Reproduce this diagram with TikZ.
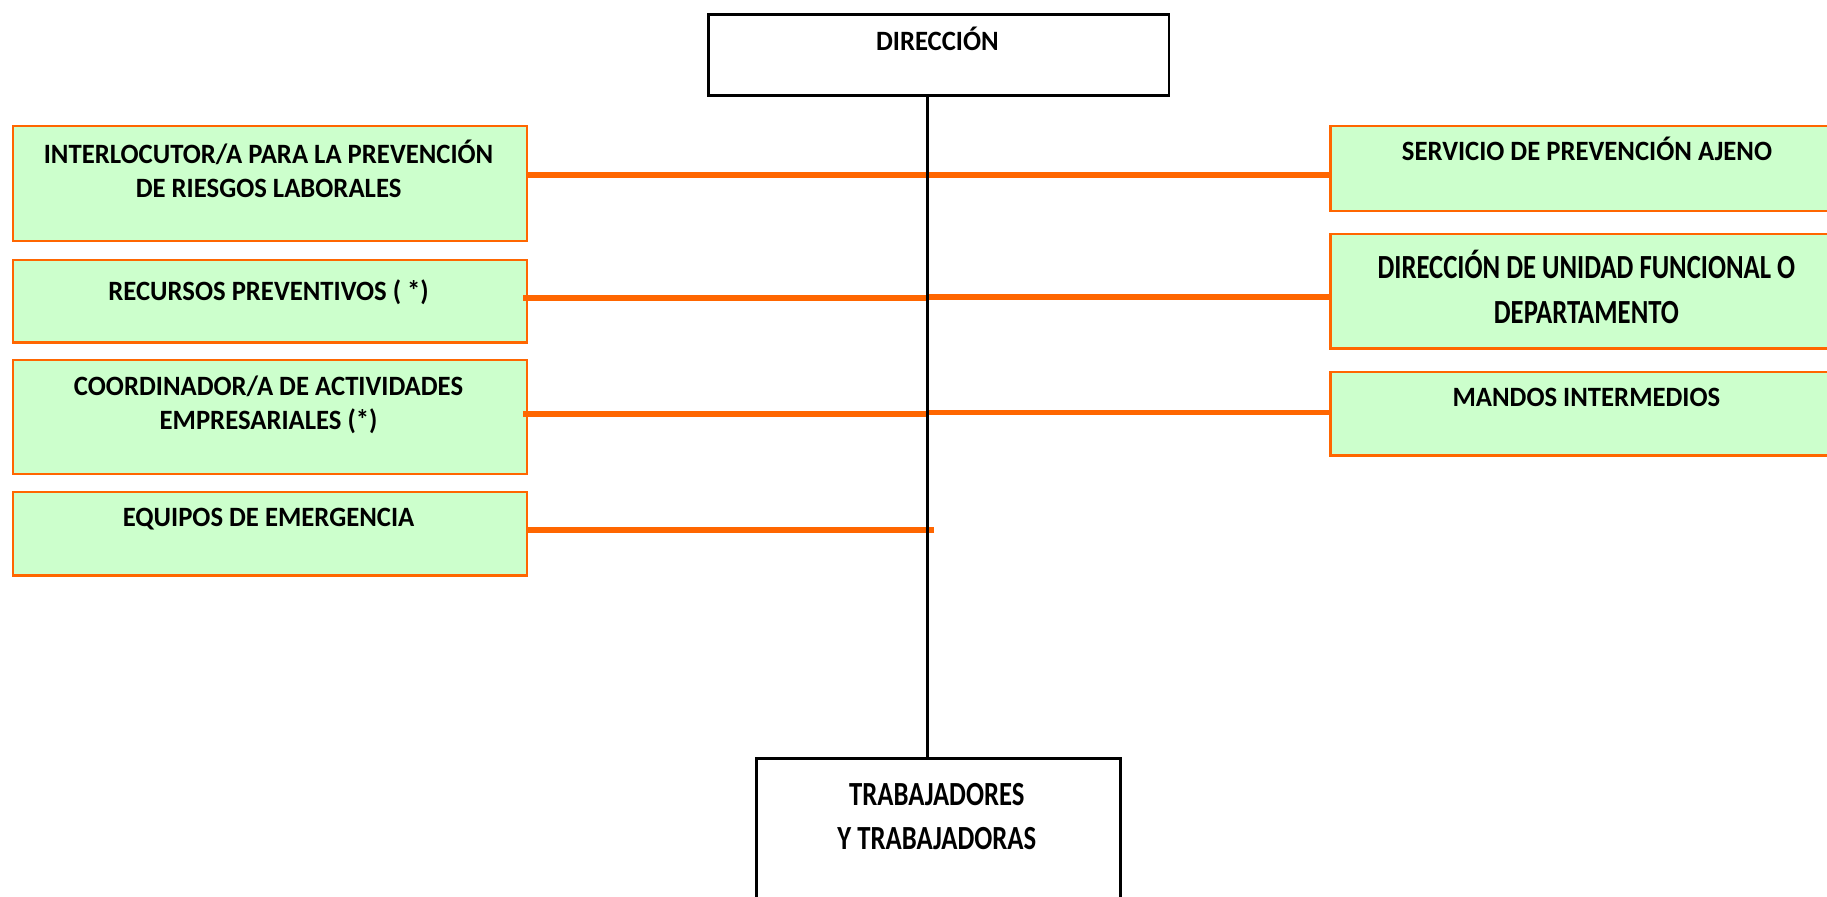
\documentclass[tikz,border=0pt]{standalone}
\usepackage{fontspec}
\setmainfont{Carlito}
\newfontfamily\smallf[FakeStretch=0.955]{Carlito}
\newfontfamily\bigf[FakeStretch=0.79]{Carlito}
\definecolor{boxgreen}{HTML}{CCFFCC}
\definecolor{orgline}{HTML}{FF6600}
\tikzset{
  gbox/.style={draw=orgline, line width=2pt, fill=boxgreen, inner sep=0pt, anchor=north west},
  wbox/.style={draw=black, line width=2.5pt, fill=white, inner sep=0pt, anchor=north west},
  txt/.style={font=\smallf\bfseries\fontsize{24}{29}\selectfont, align=center, inner sep=0pt, anchor=base},
  bigtxt/.style={font=\bigf\bfseries\fontsize{29}{38}\selectfont, align=center, inner sep=0pt, anchor=base},
  orgconn/.style={draw=orgline, line width=5pt},
  spine/.style={draw=black, line width=2pt}
}
\begin{document}
\begin{tikzpicture}[x=1pt,y=1pt]
\useasboundingbox (0,0) rectangle (1568,-769.8);
\clip (0,0) rectangle (1568,-769.8);
% boxes
\node[wbox, minimum width=395pt, minimum height=70pt] (dir) at (607,-11) {};
\node[gbox, minimum width=441pt, minimum height=99pt] (l1) at (10,-107) {};
\node[gbox, minimum width=441pt, minimum height=71pt] (l2) at (10,-222) {};
\node[gbox, minimum width=441pt, minimum height=98pt] (l3) at (10,-308) {};
\node[gbox, minimum width=441pt, minimum height=72pt] (l4) at (10,-421) {};
\node[gbox, minimum width=442pt, minimum height=73pt] (r1) at (1141,-107) {};
\node[gbox, minimum width=442pt, minimum height=98pt] (r2) at (1141,-200) {};
\node[gbox, minimum width=442pt, minimum height=72pt] (r3) at (1141,-318) {};
\node[wbox, minimum width=312pt, minimum height=150pt] (trab) at (648,-650) {};
% texts
\node[txt] (tdir) at (804.5,-43.5) {DIRECCIÓN};
\node[txt] (tl1) at (230.5,-169.7) {INTERLOCUTOR/A PARA LA PREVENCIÓN\\DE RIESGOS LABORALES};
\node[txt] (tl2) at (230.5,-257.7) {RECURSOS PREVENTIVOS ( *)};
\node[txt] (tl3) at (230.5,-368.7) {COORDINADOR/A DE ACTIVIDADES\\EMPRESARIALES (*)};
\node[txt] (tl4) at (230.5,-451.7) {EQUIPOS DE EMERGENCIA};
\node[txt] (tr1) at (1362,-137.7) {SERVICIO DE PREVENCIÓN AJENO};
\node[bigtxt] (tr2) at (1361.5,-277.3) {DIRECCIÓN DE UNIDAD FUNCIONAL O\\DEPARTAMENTO};
\node[txt] (tr3) at (1361.5,-348.7) {MANDOS INTERMEDIOS};
\node[bigtxt] (ttrab) at (804,-729.3) {TRABAJADORES\\Y TRABAJADORAS};
% helper coordinates
\coordinate (sx) at (796,0);
\coordinate (h1) at (0,-150);
\coordinate (h2a) at (0,-256);
\coordinate (h2b) at (0,-255);
\coordinate (h3a) at (0,-355);
\coordinate (h3b) at (0,-354);
\coordinate (h4) at (0,-455);
\coordinate (e4) at (802,-455);
% orange connectors
\draw[orgconn] (l1.east |- h1) -- (r1.west |- h1);
\draw[orgconn] ([xshift=-4pt]l2.east |- h2a) -- (sx |- h2a);
\draw[orgconn] (sx |- h2b) -- (r2.west |- h2b);
\draw[orgconn] ([xshift=-4pt]l3.east |- h3a) -- (sx |- h3a);
\draw[orgconn] (sx |- h3b) -- (r3.west |- h3b);
\draw[orgconn] (l4.east |- h4) -- (e4);
% spine
\draw[spine] (sx |- dir.south) -- (sx |- trab.north);
\end{tikzpicture}
\end{document}
